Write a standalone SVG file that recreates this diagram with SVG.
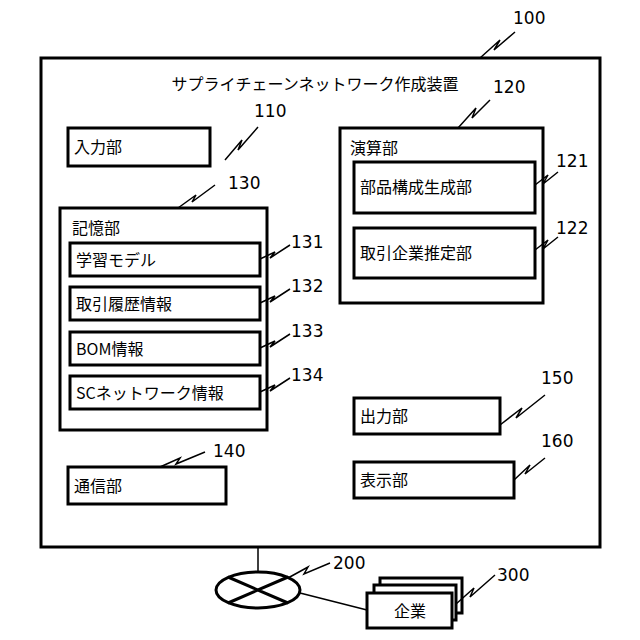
<svg xmlns="http://www.w3.org/2000/svg" width="640" height="640" viewBox="0 0 640 640">
<style>
.b{fill:#fff;stroke:#000;stroke-width:3}
.z{fill:none;stroke:#000;stroke-width:1.5}
text{font-family:"Noto Sans CJK JP","Noto Sans",sans-serif;font-size:16px;fill:#000}
.n{font-family:"DejaVu Sans",sans-serif;font-size:17px}
</style>
<rect width="640" height="640" fill="#fff"/>
<g id="n100"><rect class="b" x="41" y="58" width="559" height="489"/><text x="315" y="90" text-anchor="middle">サプライチェーンネットワーク作成装置</text></g>
<g id="n110"><rect class="b" x="68" y="128" width="142" height="38"/><text x="74" y="153">入力部</text></g>
<g id="n120"><rect class="b" x="340" y="128" width="203" height="175"/><text x="350" y="154">演算部</text></g>
<g id="n121"><rect class="b" x="354" y="162" width="181" height="51"/><text x="360" y="193">部品構成生成部</text></g>
<g id="n122"><rect class="b" x="354" y="228" width="181" height="50"/><text x="360" y="259">取引企業推定部</text></g>
<g id="n130"><rect class="b" x="60" y="208" width="207" height="222"/><text x="72" y="234">記憶部</text></g>
<g id="n131"><rect class="b" x="70" y="243" width="190" height="33"/><text x="76" y="266">学習モデル</text></g>
<g id="n132"><rect class="b" x="70" y="287" width="190" height="33"/><text x="76" y="310">取引履歴情報</text></g>
<g id="n133"><rect class="b" x="70" y="332" width="190" height="33"/><text x="76" y="355">BOM情報</text></g>
<g id="n134"><rect class="b" x="70" y="376" width="190" height="33"/><text x="76" y="399">SCネットワーク情報</text></g>
<g id="n140"><rect class="b" x="68" y="467" width="158" height="37"/><text x="74" y="492">通信部</text></g>
<g id="n150"><rect class="b" x="354" y="398" width="146" height="36"/><text x="360" y="422">出力部</text></g>
<g id="n160"><rect class="b" x="354" y="462" width="160" height="36"/><text x="360" y="486">表示部</text></g>
<g id="n200"><ellipse cx="258" cy="590" rx="42" ry="18" fill="#fff" stroke="#000" stroke-width="3"/><path d="M228 577 L288 603 M228 603 L288 577" stroke="#000" stroke-width="3"/></g>
<g id="n300"><rect class="b" x="380" y="578" width="82" height="35"/><rect class="b" x="374" y="585" width="82" height="35"/><rect class="b" x="367" y="593" width="85" height="35"/><text x="410" y="617" text-anchor="middle">企業</text></g>
<g id="connectors">
<path class="z" d="M258 572 V547 M300 593 L367 610"/>
<path class="z" d="M480 58 L500 40 L494 50 L515 32"/>
<path class="z" d="M225 160 L242 140 L238 150 L258 127"/>
<path class="z" d="M458 128 L476 108 L472 118 L490 100"/>
<path class="z" d="M535 185 L548 175 L543 184 L558 172"/>
<path class="z" d="M535 250 L548 240 L543 249 L558 237"/>
<path class="z" d="M178 208 L196 195 L192 202 L215 185"/>
<path class="z" d="M260 259 L275 252 L270 258 L290 245"/>
<path class="z" d="M260 303 L275 296 L270 302 L290 289"/>
<path class="z" d="M260 348 L275 341 L270 347 L290 334"/>
<path class="z" d="M260 392 L275 385 L270 391 L290 378"/>
<path class="z" d="M160 467 L180 458 L176 464 L205 452"/>
<path class="z" d="M500 425 L522 408 L516 418 L545 395"/>
<path class="z" d="M514 480 L530 465 L525 474 L545 458"/>
<path class="z" d="M288 578 L308 567 L304 574 L330 563"/>
<path class="z" d="M456 604 L474 588 L470 597 L495 575"/>
</g>
<g class="n">
<text class="n" x="513" y="24">100</text>
<text class="n" x="254" y="117">110</text>
<text class="n" x="493" y="93">120</text>
<text class="n" x="556" y="167">121</text>
<text class="n" x="556" y="234">122</text>
<text class="n" x="228" y="189">130</text>
<text class="n" x="291" y="248">131</text>
<text class="n" x="291" y="292">132</text>
<text class="n" x="291" y="337">133</text>
<text class="n" x="291" y="381">134</text>
<text class="n" x="213" y="457">140</text>
<text class="n" x="541" y="384">150</text>
<text class="n" x="541" y="447">160</text>
<text class="n" x="333" y="569">200</text>
<text class="n" x="497" y="581">300</text>
</g>
</svg>
